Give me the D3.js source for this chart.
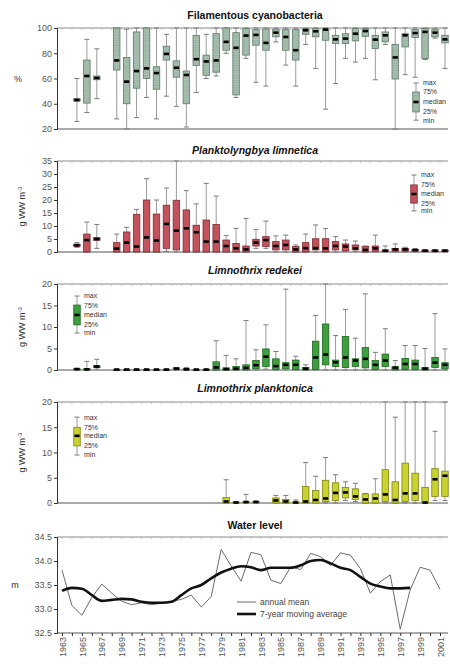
<!DOCTYPE html>
<html>
<head>
<meta charset="utf-8">
<script src="https://cdn.jsdelivr.net/npm/d3@7"></script>
<style>
  body { margin: 0; background: #fff; }
  text { font-family: "Liberation Sans", Arial, sans-serif; }
</style>
</head>
<body>
<svg id="chart" width="450" height="664"></svg>
<script>
// rows: [year, min, 25%, median, 75%, max]
var filamentous = [
  [1964, 26, 42, 43, 44, 60], [1965, 33, 40.5, 62, 74.6, 91], [1966, 44, 59, 60.4, 62, 83.5],
  [1968, 28, 66.7, 74.3, 100, 100], [1969, 20, 40, 57.5, 76.7, 99], [1970, 29, 52.3, 65.9, 96.9, 100],
  [1971, 45, 60, 68, 100, 100], [1972, 28, 51.5, 64.3, 69.3, 100], [1973, 46, 74.6, 79.5, 85.6, 95],
  [1974, 38, 61, 68.5, 74, 100], [1975, 21.6, 40, 62.8, 65.9, 100], [1976, 49, 70.4, 75.3, 94, 100],
  [1977, 60, 62.5, 73.5, 78.5, 95], [1978, 62, 65, 74.3, 95.5, 100], [1979, 80, 82.4, 89, 100, 100],
  [1980, 45, 47, 84.3, 96.3, 100], [1981, 76, 78.5, 94, 99.5, 100], [1982, 57, 86.4, 94.5, 98.7, 100],
  [1983, 54, 82.4, 88.2, 99.2, 100], [1984, 89, 93, 96.3, 99, 100], [1985, 70.6, 82.4, 92.9, 98.7, 100],
  [1986, 54, 74.6, 82.4, 98.7, 100], [1987, 87, 95, 98.2, 99.5, 100], [1988, 68, 93, 97.4, 99.5, 100],
  [1989, 35.7, 90.3, 98.7, 99.5, 100], [1990, 56, 87.7, 91, 94.2, 100], [1991, 76, 87.7, 91.6, 95.5, 100],
  [1992, 73, 89.8, 95.5, 99.5, 100], [1993, 76, 93.4, 97.6, 99.5, 100], [1994, 59, 83.7, 90.8, 94.2, 100],
  [1995, 87, 89, 94.2, 96.9, 100], [1996, 20, 59.6, 76.7, 87.1, 100], [1997, 63, 85, 94.2, 95.5, 100],
  [1998, 61, 92.4, 96, 98.7, 100], [1999, 75, 75.9, 96.9, 99.5, 100], [2000, 92, 93, 96.3, 98.7, 100],
  [2001, 68, 88.2, 91, 94.2, 100]
];

var planktolyngbya = [
  [1964, 1.8, 2.2, 2.6, 3.0, 3.6], [1965, 0, 0, 4.6, 6.9, 11.5], [1966, 1.4, 4.5, 5, 5.5, 10.6],
  [1968, 0, 0, 1.3, 3.6, 6.9], [1969, 0, 0, 3.6, 7.7, 9.5], [1970, 0, 0, 2.1, 14.5, 16.4],
  [1971, 0, 0, 5.6, 20, 28.2], [1972, 0, 0, 4.4, 14.6, 20], [1973, 0.3, 1.4, 10.8, 18, 24.6],
  [1974, 0, 0.8, 8.2, 19.9, 35], [1975, 0, 0, 9.1, 16.2, 23.6], [1976, 0, 0, 7.6, 10.3, 18.5],
  [1977, 0, 0, 4, 12.3, 26.4], [1978, 0, 0, 4, 10.6, 21.5], [1979, 0, 0, 2.3, 4.6, 6.4],
  [1980, 0, 0, 1.4, 3.3, 9.1], [1981, 0, 0, 1, 2.3, 12.9], [1982, 1.4, 2.3, 3.6, 4.9, 8.7],
  [1983, 1.4, 2.1, 4.6, 5.9, 11.9], [1984, 0, 0.8, 2.3, 4, 6.2], [1985, 0, 0.8, 2.7, 4.6, 6.5],
  [1986, 0, 0, 1, 2.1, 2.7], [1987, 0, 0, 1.5, 3.6, 6.9], [1988, 0, 0.8, 1.5, 5.1, 10.4],
  [1989, 0, 0, 1.4, 5.1, 9], [1990, 0, 0.8, 2.3, 4, 5.9], [1991, 0.2, 0.5, 2.1, 3.1, 4.6],
  [1992, 0.2, 0.8, 1.4, 2.7, 4.2], [1993, 0, 0, 0.8, 2.1, 2.3], [1994, 0, 0.3, 1.4, 2.3, 6.5],
  [1995, 0, 0.2, 0.5, 0.8, 2.3], [1996, 0, 0.3, 1, 1.4, 3.1], [1997, 0, 0.3, 1, 1.4, 1.8],
  [1998, 0, 0.3, 0.8, 1.0, 1.2], [1999, 0, 0.2, 0.5, 0.7, 0.9], [2000, 0, 0.2, 0.5, 0.7, 0.9],
  [2001, 0, 0.2, 0.5, 0.7, 0.9]
];

var redekei = [
  [1964, 0, 0.1, 0.2, 0.3, 0.4], [1965, 0, 0.1, 0.15, 0.3, 2], [1966, 0.2, 0.6, 0.8, 1.0, 2.5],
  [1968, 0, 0, 0.1, 0.15, 0.2], [1969, 0, 0, 0.1, 0.15, 0.2], [1970, 0, 0, 0.1, 0.15, 0.2],
  [1971, 0, 0, 0.1, 0.15, 0.2], [1972, 0, 0, 0.1, 0.15, 0.2], [1973, 0, 0, 0.1, 0.15, 0.2],
  [1974, 0, 0.2, 0.3, 0.5, 0.6], [1975, 0, 0.05, 0.15, 0.3, 0.6], [1976, 0, 0, 0.1, 0.15, 0.2],
  [1977, 0, 0, 0.1, 0.15, 0.2], [1978, 0, 0, 0.6, 1.9, 6.8], [1979, 0, 0, 0.2, 0.5, 3.4],
  [1980, 0, 0, 0.3, 0.8, 2.6], [1981, 0, 0, 0.5, 1.2, 11.5], [1982, 0, 0.3, 1.1, 2.2, 4.7],
  [1983, 0.2, 0.8, 3.1, 4.9, 10.5], [1984, 0, 0.15, 0.9, 2.6, 4.3], [1985, 0, 0.3, 1.2, 1.7, 18.8],
  [1986, 0, 0.15, 1.2, 2.3, 3.2], [1987, 0, 0, 0.3, 0.6, 1.2], [1988, 0, 0.15, 2.9, 6.7, 12.7],
  [1989, 0, 1.2, 3.6, 10.7, 20], [1990, 0, 0.8, 1.8, 2.3, 8], [1991, 0, 0.6, 2.9, 7.8, 14.1],
  [1992, 0, 0.8, 2.2, 2.6, 7.4], [1993, 0, 0.5, 2.6, 5.2, 17.7], [1994, 0, 0.15, 1.2, 2.2, 4.1],
  [1995, 0, 0.8, 2.2, 3.7, 9.6], [1996, 0, 0, 0.5, 0.8, 2.2], [1997, 0, 0.15, 1.4, 2.7, 5.7],
  [1998, 0, 0.15, 1.4, 2.3, 5.7], [1999, 0, 0, 0.3, 0.6, 5], [2000, 0, 0.6, 1.7, 2.9, 13.1],
  [2001, 0, 0.3, 1.2, 1.7, 4.9]
];

var planktonica = [
  [1979, 0, 0, 0.3, 1.1, 4.6], [1980, 0, 0, 0.1, 0.2, 0.3], [1981, 0, 0.05, 0.2, 0.3, 1.7],
  [1982, 0, 0.05, 0.2, 0.3, 0.4], [1984, 0, 0, 0.5, 1.0, 1.5], [1985, 0, 0, 0.3, 0.7, 1.5],
  [1986, 0, 0, 0.1, 0.2, 0.6], [1987, 0, 0, 0.3, 3.3, 8], [1988, 0, 0, 0.6, 2.5, 5.3],
  [1989, 0, 0.3, 0.9, 4.5, 9], [1990, 0, 0.5, 2, 4, 5.6], [1991, 0.5, 1, 2.1, 3.1, 4.2],
  [1992, 0.3, 0.7, 1.3, 2.8, 3.9], [1993, 0, 0, 0.7, 1.8, 1.9], [1994, 0, 0, 0.9, 1.8, 4.8],
  [1995, 0, 0.3, 1.7, 6.6, 20], [1996, 0, 0, 0.6, 4.2, 17], [1997, 0, 0.3, 1.9, 7.9, 20],
  [1998, 0, 0.5, 1.9, 5.9, 20], [1999, 0, 0, 0.1, 3.1, 20], [2000, 0.5, 1.3, 4.7, 6.8, 14.2],
  [2001, 0.5, 1.3, 5.4, 6.3, 20]
];

// water level, annual mean (1963-2001)
var levelYears = d3.range(1963, 2002);
var levelMean = [33.81, 33.07, 32.87, 33.24, 33.52, 33.33, 33.16, 33.09, 33.13, 33.09, 33.12, 33.16,
  33.2, 33.29, 33.04, 33.26, 34.24, 33.9, 33.58, 34.18, 34.13, 33.6, 33.53, 33.88, 33.82, 34.16,
  34.09, 33.91, 34.17, 34.12, 33.84, 33.33, 33.57, 33.71, 32.58, 33.4, 33.87, 33.81, 33.41];
// 7-year moving average (1963-1998)
var movingYears = d3.range(1963, 1999);
var movingAvg = [33.38, 33.44, 33.42, 33.29, 33.17, 33.19, 33.21, 33.2, 33.15, 33.13, 33.13, 33.15,
  33.29, 33.43, 33.5, 33.64, 33.76, 33.84, 33.89, 33.87, 33.81, 33.86, 33.86, 33.86, 33.91, 34.0,
  34.02, 33.95, 33.86, 33.81, 33.67, 33.53, 33.47, 33.43, 33.43, 33.44];

var legendLabels = ["max", "75%", "median", "25%", "min"];
var yearLabels = d3.range(1963, 2002, 2);

var svg = d3.select("#chart");
var x = d3.scaleLinear().domain([1963, 2001]).range([62, 440]);
var left = 57, right = 448;

// faint horizontal hatching used on the first panel's boxes
var pat = svg.append("defs").append("pattern").attr("id", "hatch")
    .attr("patternUnits", "userSpaceOnUse").attr("width", 4).attr("height", 2.5);
pat.append("rect").attr("width", 4).attr("height", 2.5).attr("fill", "#a7bfaf");
pat.append("line").attr("x1", 0).attr("x2", 4).attr("y1", 0.5).attr("y2", 0.5)
    .attr("stroke", "#8fa898").attr("stroke-width", 0.6);

var panels = [
  {rows: filamentous, title: "Filamentous cyanobacteria", italic: false, titleY: 19,
   top: 28, bottom: 129, domain: [20, 100], ticks: [20, 40, 60, 80, 100], ylab: "%",
   fill: "url(#hatch)", stroke: "#5f7868", legend: {x: 416, vals: [27, 33.5, 41.4, 49.3, 56.4]}},
  {rows: planktolyngbya, title: "Planktolyngbya limnetica", italic: true, titleY: 154,
   top: 161, bottom: 252, domain: [0, 35], ticks: d3.range(0, 36, 5), ylab: "g WW m",
   fill: "#c2535d", stroke: "#7c2a32", legend: {x: 414, vals: [15.8, 18.8, 22.3, 25.8, 29.6]}},
  {rows: redekei, title: "Limnothrix redekei", italic: true, titleY: 274,
   top: 284, bottom: 370, domain: [0, 20], ticks: d3.range(0, 21, 5), ylab: "g WW m",
   fill: "#3f9f3f", stroke: "#1f6420", legend: {x: 77, vals: [8.6, 10.5, 12.8, 15.1, 17.2]}},
  {rows: planktonica, title: "Limnothrix planktonica", italic: true, titleY: 392,
   top: 402, bottom: 503, domain: [0, 20], ticks: d3.range(0, 21, 5), ylab: "g WW m",
   fill: "#c9d22e", stroke: "#7d8214", legend: {x: 77, vals: [9.5, 11.3, 13.3, 15, 17]}}
];

function frame(p, y) {
  var g = svg.append("g");
  // top border
  g.append("line").attr("x1", left).attr("x2", right).attr("y1", p.top).attr("y2", p.top)
    .attr("stroke", "#8a8a8a").attr("stroke-width", 1);
  // year ticks along top
  g.selectAll(".tt").data(d3.range(1963, 2002)).enter().append("line")
    .attr("x1", function(d) { return x(d); }).attr("x2", function(d) { return x(d); })
    .attr("y1", p.top).attr("y2", p.top + 2).attr("stroke", "#aaa").attr("stroke-width", 0.6);
  // bottom axis
  g.append("line").attr("x1", left).attr("x2", right).attr("y1", p.bottom).attr("y2", p.bottom)
    .attr("stroke", "#555").attr("stroke-width", 1);
  // left axis
  var ax = g.append("g").attr("transform", "translate(" + left + ",0)")
    .call(d3.axisLeft(y).tickValues(p.ticks).tickSize(3).tickPadding(2)
      .tickFormat(p.fmt || d3.format("d")));
  ax.select(".domain").attr("stroke", "#333");
  ax.selectAll(".tick line").attr("stroke", "#333");
  ax.selectAll("text").attr("font-size", "9px").attr("fill", "#555")
    .attr("font-family", "'Liberation Sans', Arial, sans-serif");
  // title
  g.append("text").attr("x", 255).attr("y", p.titleY).attr("text-anchor", "middle")
    .attr("font-size", "10.5px").attr("font-weight", "bold")
    .attr("font-style", p.italic ? "italic" : "normal").attr("fill", "#111").text(p.title);
  return g;
}

function boxPlot(g, cx, v, y, p, w) {
  // v = [min, q1, med, q3, max]
  g.append("line").attr("x1", cx).attr("x2", cx).attr("y1", y(v[0])).attr("y2", y(v[4]))
    .attr("stroke", "#9a9a9a").attr("stroke-width", 1);
  [v[0], v[4]].forEach(function(c) {
    g.append("line").attr("x1", cx - 2.5).attr("x2", cx + 2.5).attr("y1", y(c)).attr("y2", y(c))
      .attr("stroke", "#7a7a7a").attr("stroke-width", 1);
  });
  var h = Math.max(y(v[1]) - y(v[3]), 1);
  g.append("rect").attr("x", cx - w / 2).attr("y", y(v[3])).attr("width", w).attr("height", h)
    .attr("fill", p.fill).attr("stroke", p.stroke).attr("stroke-width", 0.8);
  g.append("rect").attr("x", cx - 2.6).attr("y", y(v[2]) - 1.3).attr("width", 5.2).attr("height", 2.6)
    .attr("fill", "#000");
}

panels.forEach(function(p) {
  var y = d3.scaleLinear().domain(p.domain).range([p.bottom, p.top]);
  var g = frame(p, y);

  // y label
  var ly = g.append("text")
    .attr("transform", "translate(" + (p.ylab === "%" ? 18 : 25) + "," + ((p.top + p.bottom) / 2) + ")" +
      (p.ylab === "%" ? "" : " rotate(-90)"))
    .attr("text-anchor", "middle").attr("font-size", "9px").attr("fill", "#333")
    .attr("dy", p.ylab === "%" ? "0.35em" : 0);
  ly.append("tspan").text(p.ylab);
  if (p.ylab !== "%") ly.append("tspan").attr("dy", "-0.5em").attr("font-size", "6px").text("-3");

  var boxes = g.append("g");
  p.rows.forEach(function(r) {
    boxPlot(boxes, x(r[0] + 0.5), r.slice(1), y, p, 6.5);
  });

  // legend
  var lg = g.append("g");
  boxPlot(lg, p.legend.x, p.legend.vals, y, p, 6.5);
  var lv = p.legend.vals.slice().reverse();
  lg.selectAll("text.lab").data(legendLabels).enter().append("text")
    .attr("x", p.legend.x + 7).attr("y", function(d, i) { return y(lv[i]); })
    .attr("dy", "0.35em").attr("font-size", "7px").attr("fill", "#333").text(function(d) { return d; });
});

// Water level panel
var wp = {title: "Water level", italic: false, titleY: 529, top: 537, bottom: 633,
  domain: [32.5, 34.5], ticks: [32.5, 33, 33.5, 34, 34.5], fmt: d3.format(".1f")};
var yw = d3.scaleLinear().domain(wp.domain).range([wp.bottom, wp.top]);
var gw = frame(wp, yw);

gw.append("text").attr("x", 15).attr("y", (wp.top + wp.bottom) / 2).attr("dy", "0.35em")
  .attr("text-anchor", "middle").attr("font-size", "9px").attr("fill", "#333").text("m");

var xAxis = gw.append("g").attr("transform", "translate(0," + wp.bottom + ")")
  .call(d3.axisBottom(x).tickValues(d3.range(1963, 2002)).tickSize(3)
    .tickFormat(function(d) { return yearLabels.indexOf(d) >= 0 ? d : ""; }));
xAxis.select(".domain").remove();
xAxis.selectAll(".tick line").attr("stroke", "#333");
xAxis.selectAll("text").attr("transform", "rotate(-90)").attr("text-anchor", "end")
  .attr("x", -4).attr("y", 0).attr("dy", "0.35em").attr("font-size", "9px").attr("fill", "#555")
  .attr("font-family", "'Liberation Sans', Arial, sans-serif");

var line = d3.line().x(function(d) { return x(d[0]); }).y(function(d) { return yw(d[1]); });
gw.append("path").datum(d3.zip(levelYears, levelMean)).attr("d", line)
  .attr("fill", "none").attr("stroke", "#6a6a6a").attr("stroke-width", 1);
gw.append("path").datum(d3.zip(movingYears, movingAvg)).attr("d", line.curve(d3.curveMonotoneX))
  .attr("fill", "none").attr("stroke", "#111").attr("stroke-width", 2.6);

// legend
var wl = gw.append("g");
wl.append("line").attr("x1", 237).attr("x2", 256).attr("y1", 602).attr("y2", 602)
  .attr("stroke", "#6a6a6a").attr("stroke-width", 1);
wl.append("line").attr("x1", 237).attr("x2", 256).attr("y1", 614).attr("y2", 614)
  .attr("stroke", "#111").attr("stroke-width", 2.6);
wl.append("text").attr("x", 260).attr("y", 602).attr("dy", "0.35em").attr("font-size", "8.5px")
  .attr("fill", "#444").text("annual mean");
wl.append("text").attr("x", 260).attr("y", 614).attr("dy", "0.35em").attr("font-size", "8.5px")
  .attr("fill", "#444").text("7-year moving average");
</script>
</body>
</html>
